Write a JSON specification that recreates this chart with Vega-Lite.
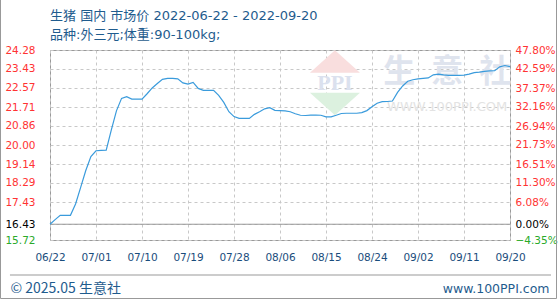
{
  "$schema": "https://vega.github.io/schema/vega-lite/v6.json",
  "width": 460,
  "height": 190,
  "autosize": {"type": "none"},
  "padding": {"left": 50, "top": 50, "right": 50, "bottom": 60},
  "background": "white",
  "config": {"view": {"stroke": "#999999", "strokeWidth": 1}, "font": "DejaVu Sans"},
  "datasets": {
    "one": [{}],
    "price": [
      {"date": "2022/06/22", "price": 16.43},
      {"date": "2022/06/23", "price": 16.64},
      {"date": "2022/06/24", "price": 16.83},
      {"date": "2022/06/25", "price": 16.83},
      {"date": "2022/06/26", "price": 16.83},
      {"date": "2022/06/27", "price": 17.34},
      {"date": "2022/06/28", "price": 18.09},
      {"date": "2022/06/29", "price": 18.85},
      {"date": "2022/06/30", "price": 19.48},
      {"date": "2022/07/01", "price": 19.74},
      {"date": "2022/07/02", "price": 19.76},
      {"date": "2022/07/03", "price": 19.77},
      {"date": "2022/07/04", "price": 20.68},
      {"date": "2022/07/05", "price": 21.54},
      {"date": "2022/07/06", "price": 22.10},
      {"date": "2022/07/07", "price": 22.18},
      {"date": "2022/07/08", "price": 22.07},
      {"date": "2022/07/09", "price": 22.07},
      {"date": "2022/07/10", "price": 22.07},
      {"date": "2022/07/11", "price": 22.31},
      {"date": "2022/07/12", "price": 22.57},
      {"date": "2022/07/13", "price": 22.77},
      {"date": "2022/07/14", "price": 22.96},
      {"date": "2022/07/15", "price": 23.00},
      {"date": "2022/07/16", "price": 23.00},
      {"date": "2022/07/17", "price": 22.98},
      {"date": "2022/07/18", "price": 22.80},
      {"date": "2022/07/19", "price": 22.74},
      {"date": "2022/07/20", "price": 22.82},
      {"date": "2022/07/21", "price": 22.55},
      {"date": "2022/07/22", "price": 22.46},
      {"date": "2022/07/23", "price": 22.46},
      {"date": "2022/07/24", "price": 22.46},
      {"date": "2022/07/25", "price": 22.24},
      {"date": "2022/07/26", "price": 21.92},
      {"date": "2022/07/27", "price": 21.50},
      {"date": "2022/07/28", "price": 21.28},
      {"date": "2022/07/29", "price": 21.20},
      {"date": "2022/07/30", "price": 21.20},
      {"date": "2022/07/31", "price": 21.20},
      {"date": "2022/08/01", "price": 21.38},
      {"date": "2022/08/02", "price": 21.50},
      {"date": "2022/08/03", "price": 21.63},
      {"date": "2022/08/04", "price": 21.68},
      {"date": "2022/08/05", "price": 21.56},
      {"date": "2022/08/06", "price": 21.55},
      {"date": "2022/08/07", "price": 21.54},
      {"date": "2022/08/08", "price": 21.50},
      {"date": "2022/08/09", "price": 21.41},
      {"date": "2022/08/10", "price": 21.34},
      {"date": "2022/08/11", "price": 21.33},
      {"date": "2022/08/12", "price": 21.35},
      {"date": "2022/08/13", "price": 21.35},
      {"date": "2022/08/14", "price": 21.34},
      {"date": "2022/08/15", "price": 21.27},
      {"date": "2022/08/16", "price": 21.27},
      {"date": "2022/08/17", "price": 21.34},
      {"date": "2022/08/18", "price": 21.42},
      {"date": "2022/08/19", "price": 21.43},
      {"date": "2022/08/20", "price": 21.43},
      {"date": "2022/08/21", "price": 21.43},
      {"date": "2022/08/22", "price": 21.46},
      {"date": "2022/08/23", "price": 21.55},
      {"date": "2022/08/24", "price": 21.72},
      {"date": "2022/08/25", "price": 21.88},
      {"date": "2022/08/26", "price": 21.95},
      {"date": "2022/08/27", "price": 21.96},
      {"date": "2022/08/28", "price": 21.98},
      {"date": "2022/08/29", "price": 22.37},
      {"date": "2022/08/30", "price": 22.66},
      {"date": "2022/08/31", "price": 22.87},
      {"date": "2022/09/01", "price": 22.94},
      {"date": "2022/09/02", "price": 22.98},
      {"date": "2022/09/03", "price": 23.00},
      {"date": "2022/09/04", "price": 23.02},
      {"date": "2022/09/05", "price": 23.16},
      {"date": "2022/09/06", "price": 23.19},
      {"date": "2022/09/07", "price": 23.16},
      {"date": "2022/09/08", "price": 23.14},
      {"date": "2022/09/09", "price": 23.14},
      {"date": "2022/09/10", "price": 23.14},
      {"date": "2022/09/11", "price": 23.15},
      {"date": "2022/09/12", "price": 23.19},
      {"date": "2022/09/13", "price": 23.26},
      {"date": "2022/09/14", "price": 23.28},
      {"date": "2022/09/15", "price": 23.32},
      {"date": "2022/09/16", "price": 23.34},
      {"date": "2022/09/17", "price": 23.35},
      {"date": "2022/09/18", "price": 23.52},
      {"date": "2022/09/19", "price": 23.58},
      {"date": "2022/09/20", "price": 23.53}
    ]
  },
  "layer": [
    {
      "layer": [
        {
          "data": {"name": "one"},
          "mark": {"type": "rect", "fill": null, "filled": false, "stroke": "#999999", "strokeWidth": 1},
          "encoding": {
            "x": {"datum": {"year": 2022, "month": 6, "date": 12, "hours": 7, "minutes": 34}},
            "x2": {"datum": {"year": 2022, "month": 9, "date": 29, "hours": 2, "minutes": 24}},
            "y": {"datum": 26.62},
            "y2": {"datum": 13.084}
          }
        },
        {
          "data": {"name": "one"},
          "mark": {"type": "rule", "stroke": "#999999", "strokeWidth": 1},
          "encoding": {
            "x": {"datum": {"year": 2022, "month": 6, "date": 14, "hours": 4}},
            "x2": {"datum": {"year": 2022, "month": 9, "date": 28, "hours": 0, "minutes": 30}},
            "y": {"datum": 14.143}
          }
        },
        {
          "data": {"name": "one"},
          "mark": {"type": "text", "text": "生猪 国内 市场价 2022-06-22 - 2022-09-20", "font": "DejaVu Sans, Noto Sans CJK SC", "fontSize": 13, "color": "#1f5c8e", "align": "left", "baseline": "alphabetic"},
          "encoding": {
            "x": {"datum": {"year": 2022, "month": 6, "date": 22}},
            "y": {"datum": 25.65}
          }
        },
        {
          "data": {"name": "one"},
          "mark": {"type": "text", "text": "品种:外三元;体重:90-100kg;", "font": "DejaVu Sans, Noto Sans CJK SC", "fontSize": 13, "color": "#1f5c8e", "align": "left", "baseline": "alphabetic"},
          "encoding": {
            "x": {"datum": {"year": 2022, "month": 6, "date": 22}},
            "y": {"datum": 24.77}
          }
        },
        {
          "data": {"name": "one"},
          "mark": {"type": "point", "shape": "M-1,0.45L1,0.45L0,-0.45Z", "filled": true, "fill": "#f9dede", "opacity": 1, "strokeWidth": 0, "size": 2500},
          "encoding": {
            "x": {"datum": {"year": 2022, "month": 8, "date": 16, "hours": 18}},
            "y": {"datum": 23.76}
          }
        },
        {
          "data": {"name": "one"},
          "mark": {"type": "point", "shape": "M-1,-0.45L1,-0.45L0,0.45Z", "filled": true, "fill": "#dcf1df", "opacity": 1, "strokeWidth": 0, "size": 2500},
          "encoding": {
            "x": {"datum": {"year": 2022, "month": 8, "date": 16, "hours": 18}},
            "y": {"datum": 21.85}
          }
        },
        {
          "data": {"name": "one"},
          "mark": {"type": "text", "text": "PPI", "font": "Liberation Serif", "fontSize": 22, "fontWeight": "bold", "color": "#dbe1ee", "align": "center", "baseline": "middle"},
          "encoding": {
            "x": {"datum": {"year": 2022, "month": 8, "date": 16, "hours": 18}},
            "y": {"datum": 22.79}
          }
        },
        {
          "data": {"name": "one"},
          "mark": {"type": "text", "text": "生\u2002意\u2002社", "font": "Noto Sans CJK SC", "fontSize": 32, "fontWeight": "bold", "color": "#dfe4ee", "align": "center", "baseline": "middle"},
          "encoding": {
            "x": {"datum": {"year": 2022, "month": 9, "date": 7, "hours": 17}},
            "y": {"datum": 23.29}
          }
        },
        {
          "data": {"name": "one"},
          "mark": {"type": "text", "text": "WWW.100PPI.COM", "font": "DejaVu Sans", "fontSize": 13, "color": "#e3e3e3", "align": "center", "baseline": "middle"},
          "encoding": {
            "x": {"datum": {"year": 2022, "month": 9, "date": 7, "hours": 17}},
            "y": {"datum": 21.71}
          }
        },
        {
          "data": {"name": "one"},
          "mark": {"type": "rule", "stroke": "#999999", "strokeWidth": 1},
          "encoding": {"y": {"datum": 16.43}}
        },
        {
          "data": {"name": "price"},
          "mark": {"type": "line", "color": "#3a9bdc", "strokeWidth": 1.2},
          "encoding": {
            "x": {
              "field": "date",
              "type": "temporal",
              "scale": {"domain": [{"year": 2022, "month": 6, "date": 22}, {"year": 2022, "month": 9, "date": 20}]},
              "axis": {
                "values": [
                  {"year": 2022, "month": 6, "date": 22},
                  {"year": 2022, "month": 7, "date": 1},
                  {"year": 2022, "month": 7, "date": 10},
                  {"year": 2022, "month": 7, "date": 19},
                  {"year": 2022, "month": 7, "date": 28},
                  {"year": 2022, "month": 8, "date": 6},
                  {"year": 2022, "month": 8, "date": 15},
                  {"year": 2022, "month": 8, "date": 24},
                  {"year": 2022, "month": 9, "date": 2},
                  {"year": 2022, "month": 9, "date": 11},
                  {"year": 2022, "month": 9, "date": 20}
                ],
                "tickCount": 11,
                "format": "%m/%d",
                "labelFont": "DejaVu Sans",
                "labelFontSize": 10.5,
                "labelColor": "#1a4d7c",
                "labelPadding": 12,
                "labelOverlap": false,
                "labelFlush": false,
                "ticks": false,
                "domain": false,
                "grid": true,
                "gridColor": "#c8c8c8",
                "gridDash": [3, 3],
                "title": "© 2025.05 生意社",
                "titleFont": "Noto Sans CJK SC",
                "titleFontSize": 14,
                "titleFontWeight": "normal",
                "titleColor": "#1f5c8e",
                "titleX": -40,
                "titleY": 48,
                "titleAlign": "left",
                "titleBaseline": "middle"
              }
            },
            "y": {
              "field": "price",
              "type": "quantitative",
              "scale": {"domain": [15.72, 24.28], "nice": false, "zero": false},
              "axis": {
                "values": [15.72, 16.43, 17.43, 18.29, 19.14, 20.00, 20.86, 21.71, 22.57, 23.43, 24.28],
                "tickCount": 11,
                "format": ".2f",
                "labelFont": "DejaVu Sans",
                "labelFontSize": 10.5,
                "labelColor": {
                  "condition": [
                    {"test": "datum.value == 16.43", "value": "#000000"},
                    {"test": "datum.value == 15.72", "value": "#2aaa2a"}
                  ],
                  "value": "#ff3333"
                },
                "labelOverlap": false,
                "labelFlush": false,
                "labelPadding": 15,
                "ticks": false,
                "domain": false,
                "grid": true,
                "gridColor": "#c8c8c8",
                "gridDash": [3, 3],
                "title": null
              }
            }
          }
        }
      ]
    },
    {
      "data": {"name": "one"},
      "mark": {"type": "rule", "opacity": 0},
      "encoding": {
        "y": {
          "datum": 0,
          "type": "quantitative",
          "scale": {"domain": [-4.35, 47.8], "nice": false, "zero": false},
          "axis": {
            "orient": "right",
            "values": [-4.35, 0, 6.08, 11.30, 16.51, 21.73, 26.94, 32.16, 37.37, 42.59, 47.80],
            "tickCount": 11,
            "labelExpr": "format(datum.value, '.2f') + '%'",
            "labelFont": "DejaVu Sans",
            "labelFontSize": 10.5,
            "labelColor": {
              "condition": [
                {"test": "datum.value == 0", "value": "#000000"},
                {"test": "datum.value < 0", "value": "#2aaa2a"}
              ],
              "value": "#ff3333"
            },
            "labelOverlap": false,
            "labelFlush": false,
            "labelPadding": 5,
            "ticks": false,
            "domain": false,
            "grid": false,
            "title": "www.100PPI.com",
            "titleFont": "DejaVu Sans",
            "titleFontSize": 12.5,
            "titleFontWeight": "normal",
            "titleColor": "#1f5c8e",
            "titleAngle": 0,
            "titleX": 39,
            "titleY": 238,
            "titleAlign": "right",
            "titleBaseline": "middle"
          }
        }
      }
    }
  ],
  "resolve": {"scale": {"y": "independent"}, "axis": {"y": "independent"}}
}
